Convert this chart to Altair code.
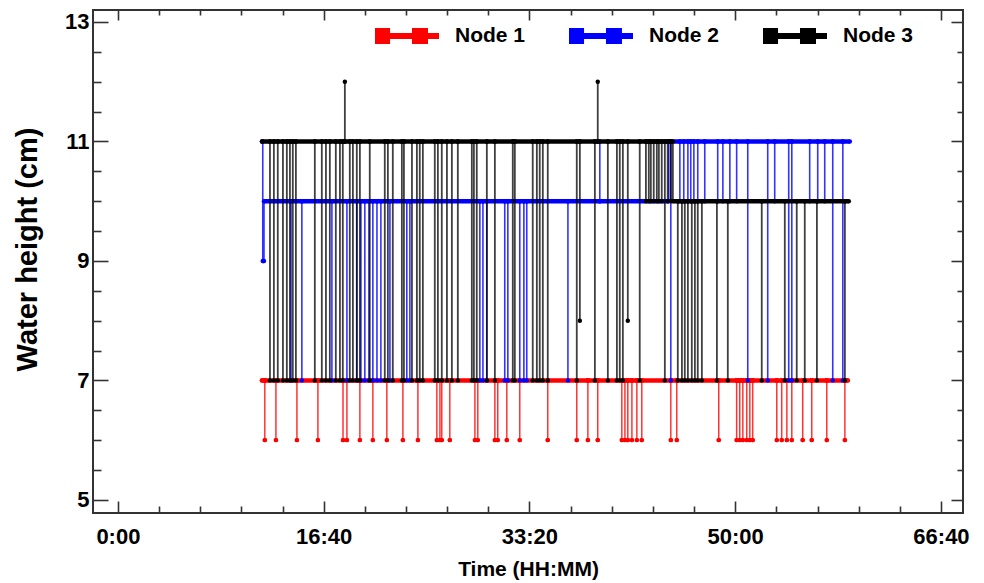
import altair as alt
import pandas as pd

# ---------------- axis data ----------------
X_DOMAIN = [-121, 4107]          # seconds
Y_DOMAIN = [4.78, 13.2]          # cm
x_major = [0, 1000, 2000, 3000, 4000]
x_minor = [200, 400, 600, 800, 1200, 1400, 1600, 1800, 2200, 2400, 2600,
           2800, 3200, 3400, 3600, 3800]
y_major = [5, 7, 9, 11, 13]
y_minor = [5.5, 6, 6.5, 7.5, 8, 8.5, 9.5, 10, 10.5, 11.5, 12, 12.5]

series = ["Node 1", "Node 2", "Node 3"]
colors = ["#ff0000", "#0000ff", "#000000"]

# ---------------- Node 1 (red) ----------------
n1_level_t = [700]
n1_level_v = [7]
n1_end = 3547
n1_dip_t = [714, 768, 870, 972, 1094, 1113, 1176, 1239, 1307, 1385, 1458, 1550,
            1565, 1574, 1613, 1735, 1749, 1832, 1846, 1890, 1953, 2089, 2230,
            2284, 2332, 2449, 2464, 2478, 2498, 2522, 2546, 2687, 2716, 2920,
            3007, 3022, 3037, 3056, 3071, 3085, 3202, 3226, 3251, 3275, 3328,
            3372, 3445, 3533]
n1_dip_v = [6, 6, 6, 6, 6, 6, 6, 6, 6, 6, 6, 6,
            6, 6, 6, 6, 6, 6, 6, 6, 6, 6, 6,
            6, 6, 6, 6, 6, 6, 6, 6, 6, 6, 6,
            6, 6, 6, 6, 6, 6, 6, 6, 6, 6, 6,
            6, 6, 6]

# ---------------- Node 2 (blue) ----------------
n2_level_t = [700, 704, 710, 2677]
n2_level_v = [11, 9, 10, 11]
n2_end = 3557
n2_dip_t = [841, 894, 1040, 1113, 1161, 1181, 1200, 1220, 1239, 1259, 1278,
            1322, 1404, 1419, 1759, 1774, 1793, 1880, 1895, 1953, 1973, 1987,
            2187, 2342,
            2687, 2731, 2750, 2770, 2784, 2799, 2818, 2852, 2915, 2940, 2974,
            3007, 3061, 3158, 3192, 3260, 3275, 3362, 3401, 3435, 3474, 3523]
n2_dip_v = [7, 7, 7, 7, 7, 7, 7, 7, 7, 7, 7,
            7, 7, 7, 7, 7, 7, 7, 7, 7, 7, 7,
            7, 11,
            7, 10, 10, 10, 10, 10, 10, 10, 10, 10, 10,
            10, 7, 7, 10, 7, 7, 10, 10, 10, 7, 7]

# ---------------- Node 3 (black) ----------------
n3_level_t = [700, 2697]
n3_level_v = [11, 10]
n3_end = 3552
n3_dip_t = [739, 758, 777, 802, 821, 836, 850, 865, 957, 991, 1011, 1030, 1059,
            1079, 1093, 1103, 1127, 1142, 1161, 1176, 1224, 1297, 1312, 1336,
            1380, 1390, 1429, 1453, 1467, 1482, 1540, 1555, 1574, 1599, 1623,
            1652, 1720, 1730, 1744, 1793, 1832, 1919, 1929, 2016, 2036, 2050,
            2065, 2089, 2230, 2245, 2318, 2332, 2381, 2425, 2439, 2454, 2478,
            2536, 2566, 2580, 2590, 2604, 2619, 2629, 2643, 2658, 2672, 2687,
            2721, 2741, 2755, 2770, 2789, 2804, 2818, 2838, 2911, 2964, 3129,
            3241, 3299, 3338, 3397, 3533]
n3_dip_v = [7, 7, 7, 7, 7, 7, 7, 7, 7, 7, 7, 7, 7,
            7, 7, 12, 7, 7, 7, 7, 7, 7, 7, 7,
            7, 7, 7, 7, 7, 7, 7, 7, 7, 7, 7,
            7, 7, 7, 7, 7, 7, 7, 7, 7, 7, 7,
            7, 7, 7, 8, 7, 12, 7, 7, 7, 7, 8,
            7, 10, 10, 10, 10, 10, 10, 10, 7, 10, 10,
            7, 7, 7, 7, 7, 7, 7, 7, 7, 7, 7,
            7, 7, 7, 7, 7]


def build(name, level_t, level_v, dip_t, dip_v, end_t):
    """Step signal: level changes plus single-sample dips."""
    events = sorted([(t, 0, v) for t, v in zip(level_t, level_v)] +
                    [(t, 1, v) for t, v in zip(dip_t, dip_v)])
    rows, cur = [], None
    for t, kind, v in events:
        if kind == 0:
            if cur is not None:
                rows.append((t, cur))
            rows.append((t, v))
            cur = v
        else:
            rows += [(t, cur), (t, v), (t, cur)]
    rows.append((end_t, cur))
    df = pd.DataFrame(rows, columns=["t", "h"])
    df["i"] = range(len(df))
    df["node"] = name
    ends = list(level_t[1:]) + [end_t]
    seg = pd.DataFrame({"t0": level_t, "t1": ends, "h": level_v, "node": name})
    return df, seg


d1, s1 = build("Node 1", n1_level_t, n1_level_v, n1_dip_t, n1_dip_v, n1_end)
d2, s2 = build("Node 2", n2_level_t, n2_level_v, n2_dip_t, n2_dip_v, n2_end)
d3, s3 = build("Node 3", n3_level_t, n3_level_v, n3_dip_t, n3_dip_v, n3_end)

FONT = "Liberation Sans, Arial, sans-serif"
TICKC = "#333333"

xs = alt.Scale(domain=X_DOMAIN, nice=False, zero=False)
ys = alt.Scale(domain=Y_DOMAIN, nice=False, zero=False)
cs = alt.Scale(domain=series, range=colors)

LEG_PATH = ("M-1,-0.25H-0.53V-0.09H0.156V-0.25H0.656V-0.09H1V0.09H0.656"
            "V0.25H0.156V0.09H-0.53V0.25H-1Z")

lab_time = ("floor(datum.value/60) + ':' + (datum.value % 60 < 10 ? '0' : '') + "
            "(datum.value % 60)")

ax_x_lab = alt.Axis(orient="bottom", values=x_major, ticks=False, tickSize=0,
                    domain=False, grid=False, labelExpr=lab_time,
                    labelFont=FONT, labelFontSize=22, labelFontWeight="bold",
                    labelColor="black", labelPadding=13,
                    title="Time (HH:MM)", titleFont=FONT, titleFontSize=21,
                    titleFontWeight="bold", titleColor="black",
                    titleY=56, titleBaseline="middle")
ax_y_lab = alt.Axis(orient="left", values=y_major, ticks=False, tickSize=0,
                    domain=False, grid=False,
                    labelFont=FONT, labelFontSize=22, labelFontWeight="bold",
                    labelColor="black", labelPadding=4,
                    title="Water height (cm)", titleFont=FONT, titleFontSize=29,
                    titleFontWeight="bold", titleColor="black",
                    titleX=-66, titleY=239, titleBaseline="middle")


def tick_axis(orient, vals, size):
    return alt.Axis(orient=orient, values=vals, ticks=True, tickSize=size,
                    offset=-size, labels=False, domain=False, grid=False,
                    title=None, tickColor=TICKC, tickWidth=1.6)


def rule_layer(seg, xa=None, ya=None):
    return alt.Chart(seg).mark_rule(strokeWidth=4.5).encode(
        x=alt.X("t0:Q", scale=xs, axis=xa),
        x2="t1:Q",
        y=alt.Y("h:Q", scale=ys, axis=ya),
        color=alt.Color("node:N", scale=cs, legend=None),
    )


def line_layer(df, op, sw, xa=None, ya=None):
    return alt.Chart(df).mark_line(strokeWidth=sw, opacity=op).encode(
        x=alt.X("t:Q", scale=xs, axis=xa),
        y=alt.Y("h:Q", scale=ys, axis=ya),
        order=alt.Order("i:Q"),
        color=alt.Color("node:N", scale=cs, legend=None),
    )


def point_layer(df, xa=None, ya=None, legend=None):
    return alt.Chart(df).mark_point(filled=True, size=20, opacity=1).encode(
        x=alt.X("t:Q", scale=xs, axis=xa),
        y=alt.Y("h:Q", scale=ys, axis=ya),
        color=alt.Color("node:N", scale=cs, legend=legend),
    )


legend = alt.Legend(orient="none", legendX=282, legendY=-6, direction="horizontal",
                    title=None, symbolType=LEG_PATH, symbolSize=4096,
                    symbolStrokeWidth=0, symbolOpacity=1,
                    labelFont=FONT, labelFontSize=21, labelFontWeight="bold",
                    labelColor="black", labelOffset=16, columnPadding=43,
                    padding=0)

layers = [
    point_layer(d1, legend=legend),
    rule_layer(s1, ax_x_lab, ax_y_lab),
    line_layer(d1, 0.8, 1.5, tick_axis("bottom", x_major, 12), tick_axis("left", y_major, 15)),
    point_layer(d1, tick_axis("bottom", x_minor, 7), tick_axis("left", y_minor, 8)),
    rule_layer(s2, tick_axis("top", x_major, 10), tick_axis("right", y_major, 12)),
    line_layer(d2, 0.8, 1.6, tick_axis("top", x_minor, 5), tick_axis("right", y_minor, 6)),
    point_layer(d2),
    rule_layer(s3),
    line_layer(d3, 0.75, 1.8),
    point_layer(d3),
]

chart = alt.layer(*layers).resolve_axis(x="independent", y="independent").properties(
    width=870, height=503,
    autosize=alt.AutoSizeParams(type="none"),
    padding={"left": 93, "top": 10, "right": 21, "bottom": 70},
    background="white",
).configure_view(stroke="#333333", strokeWidth=2)

chart.save("out.html", embed_options={"renderer": "svg", "actions": False})
